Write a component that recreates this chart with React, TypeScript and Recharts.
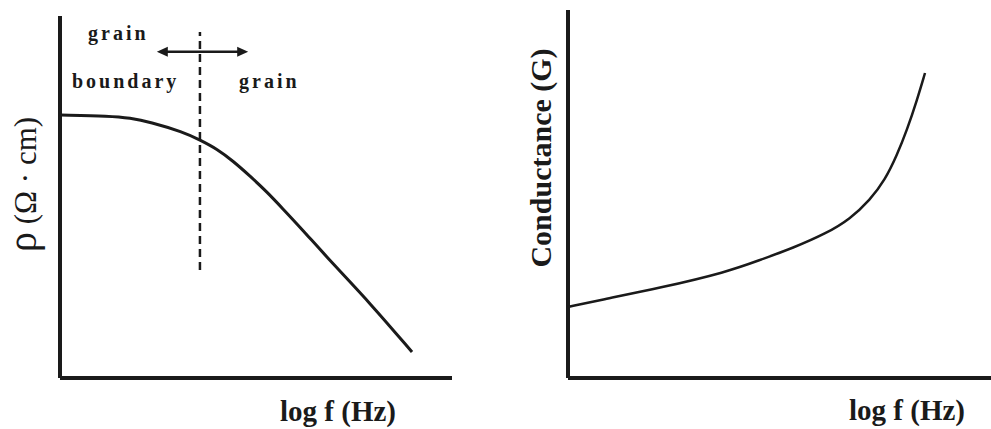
import React from "react";
import { LineChart, Line, XAxis, YAxis, ReferenceLine } from "recharts";

// Left panel: resistivity vs log f (arbitrary units 0-100)
const rhoLogF = [0.26, 12.76, 17.86, 22.96, 31.38, 35.71, 40.05, 44.13, 48.47, 52.81, 56.89, 61.22, 69.64, 79.08, 89.8];
const rhoValues = [72.65, 72.38, 71.82, 70.72, 67.96, 65.75, 63.26, 59.94, 55.8, 51.38, 46.69, 41.71, 31.49, 20.72, 7.18];

// Right panel: conductance vs log f (arbitrary units 0-100)
const gLogF = [0, 7.57, 21.75, 37.59, 45.39, 53.19, 61.23, 66.67, 71.39, 74.94, 77.78, 80.14, 82.51, 84.4];
const gValues = [19.29, 21.2, 24.46, 28.8, 32.07, 35.33, 39.4, 43.21, 48.37, 53.8, 60.6, 67.39, 75.54, 82.88];

// Boundary marker and arrow (data units of the left panel)
const boundaryX = 35.7;
const boundaryY = [29.8, 95.6];
const arrowX = [24.7, 48.0];
const arrowY = 90.1;

const rhoData = rhoLogF.map((x, i) => ({ x, y: rhoValues[i] }));
const gData = gLogF.map((x, i) => ({ x, y: gValues[i] }));

const INK = "#1a1a1a";
const SERIF = "'Liberation Serif', 'Times New Roman', serif";

const ArrowShape = (props: any) => {
  const { x1, y1, x2, y2 } = props;
  const h = 11;
  const w = 5;
  return (
    <g>
      <line x1={x1 + 4} y1={y1} x2={x2 - 4} y2={y2} stroke={INK} strokeWidth={2.5} />
      <polygon points={`${x1},${y1} ${x1 + h},${y1 - w} ${x1 + h},${y1 + w}`} fill={INK} />
      <polygon points={`${x2},${y2} ${x2 - h},${y2 - w} ${x2 - h},${y2 + w}`} fill={INK} />
    </g>
  );
};

export default function App() {
  return (
    <div style={{ position: "absolute", left: 0, top: 0, width: 991, height: 429, background: "#fff", overflow: "hidden" }}>
      <div style={{ position: "absolute", left: 0, top: 0 }}>
        <LineChart width={500} height={429} data={rhoData} margin={{ top: 16, left: 60, right: 48, bottom: 51 }}>
          <XAxis dataKey="x" type="number" domain={[0, 100]} hide />
          <YAxis type="number" domain={[0, 100]} hide />
          <ReferenceLine x={0} stroke={INK} strokeWidth={4} />
          <ReferenceLine y={0} stroke={INK} strokeWidth={4} />
          <ReferenceLine segment={[{ x: boundaryX, y: boundaryY[0] }, { x: boundaryX, y: boundaryY[1] }]}
            stroke={INK} strokeWidth={2.5} strokeDasharray="8 5" />
          <ReferenceLine segment={[{ x: arrowX[0], y: arrowY }, { x: arrowX[1], y: arrowY }]}
            shape={ArrowShape} />
          <Line type="basis" dataKey="y" stroke={INK} strokeWidth={3} dot={false} isAnimationActive={false} />
        </LineChart>
      </div>
      <div style={{ position: "absolute", left: 500, top: 0 }}>
        <LineChart width={491} height={429} data={gData} margin={{ top: 10, left: 68, right: 0, bottom: 51 }}>
          <XAxis dataKey="x" type="number" domain={[0, 100]} hide />
          <YAxis type="number" domain={[0, 100]} hide />
          <ReferenceLine x={0} stroke={INK} strokeWidth={4} />
          <ReferenceLine y={0} stroke={INK} strokeWidth={4} />
          <Line type="basis" dataKey="y" stroke={INK} strokeWidth={2.5} dot={false} isAnimationActive={false} />
        </LineChart>
      </div>
      <svg width={991} height={429} style={{ position: "absolute", left: 0, top: 0, pointerEvents: "none" }}>
        <g fontFamily={SERIF} fill={INK}>
          <text x={88} y={40} fontSize={20} fontWeight="bold" letterSpacing={3}>grain</text>
          <text x={72} y={88} fontSize={20} fontWeight="bold" letterSpacing={3}>boundary</text>
          <text x={239} y={88} fontSize={20} fontWeight="bold" letterSpacing={3}>grain</text>
          <text x={338} y={421} fontSize={29} fontWeight="bold" textAnchor="middle">log f (Hz)</text>
          <text x={907} y={420} fontSize={29} fontWeight="bold" textAnchor="middle">log f (Hz)</text>
          <text x={551} y={158} fontSize={30} fontWeight="bold" textAnchor="middle" transform="rotate(-90 551 158)">Conductance (G)</text>
          <text x={36} y={252} textAnchor="start" transform="rotate(-90 36 252)">
            <tspan fontSize={40}>ρ</tspan>
            <tspan fontSize={31}> (Ω · cm)</tspan>
          </text>
        </g>
      </svg>
    </div>
  );
}
